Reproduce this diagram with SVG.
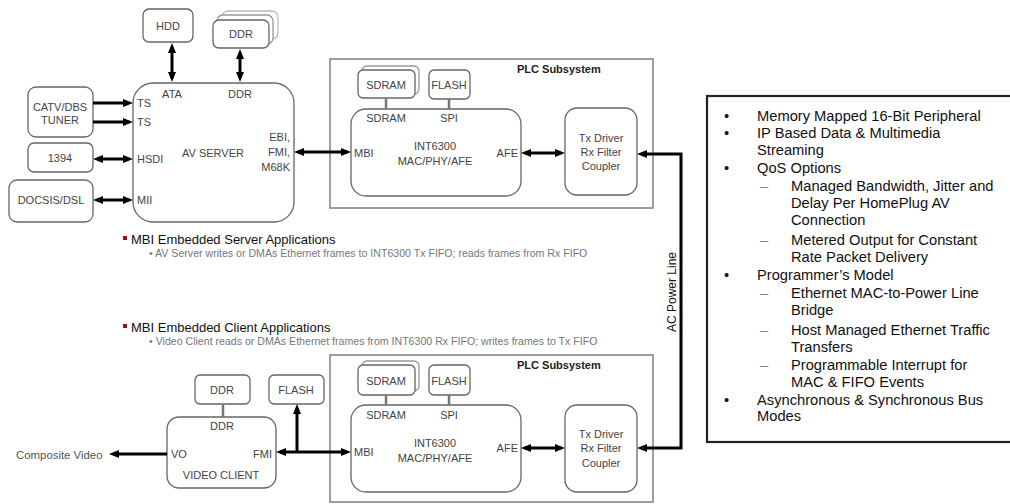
<svg xmlns="http://www.w3.org/2000/svg" width="1010" height="504" viewBox="0 0 1010 504">
<defs>
<marker id="ah" viewBox="0 0 10 8" markerWidth="10" markerHeight="8" refX="6" refY="4" markerUnits="userSpaceOnUse" orient="auto-start-reverse">
<path d="M0,0 L10,4 L0,8 z" fill="#000"/>
</marker>
<style>
.box{fill:#fff;stroke:#666;stroke-width:1.3}
.sub{fill:none;stroke:#888;stroke-width:1.6}
.lbl{font-family:"Liberation Sans",Arial,sans-serif;font-size:11px;fill:#444}
.mid{text-anchor:middle}
.end{text-anchor:end}
.arr{fill:none;stroke:#000;stroke-width:3}
.gl{fill:none;stroke:#777;stroke-width:2.5}
.bt{font-family:"Liberation Sans",Arial,sans-serif;font-size:14.7px;fill:#111}
.hd{font-family:"Liberation Sans",Arial,sans-serif;font-size:13px;fill:#111}
.sm{font-family:"Liberation Sans",Arial,sans-serif;font-size:10.6px;fill:#777}
</style>
</defs>
<rect width="1010" height="504" fill="#fff"/>

<!-- PLC subsystem frames -->
<g id="plc1">
<rect class="sub" x="330" y="59" width="323" height="149"/>
<text class="lbl" x="517" y="73" style="font-weight:bold;fill:#222">PLC Subsystem</text>
</g>
<g id="plc2">
<rect class="sub" x="330" y="355" width="323" height="147"/>
<text class="lbl" x="517" y="369" style="font-weight:bold;fill:#222">PLC Subsystem</text>
</g>

<!-- Top server side -->
<g id="hdd">
<rect class="box" x="143" y="9" width="50" height="33" rx="6"/>
<text class="lbl mid" x="168" y="30">HDD</text>
</g>
<g id="ddr1">
<rect class="box" x="222" y="11" width="56" height="28" rx="6" style="stroke:#bbb"/>
<rect class="box" x="217" y="15" width="56" height="29" rx="6" style="stroke:#999"/>
<rect class="box" x="213" y="20" width="56" height="28" rx="6"/>
<text class="lbl mid" x="241" y="38">DDR</text>
</g>
<g id="tuner">
<rect class="box" x="28" y="87" width="65" height="50" rx="8"/>
<text class="lbl mid" x="60" y="111">CATV/DBS</text>
<text class="lbl mid" x="60" y="124">TUNER</text>
</g>
<g id="n1394">
<rect class="box" x="28" y="143" width="65" height="29" rx="6"/>
<text class="lbl mid" x="60" y="162">1394</text>
</g>
<g id="docsis">
<rect class="box" x="9" y="180" width="84" height="42" rx="8"/>
<text class="lbl mid" x="51" y="204">DOCSIS/DSL</text>
</g>
<g id="avserver">
<rect class="box" x="133" y="83" width="161" height="139" rx="20"/>
<text class="lbl mid" x="172" y="98">ATA</text>
<text class="lbl mid" x="240" y="98">DDR</text>
<text class="lbl" x="137" y="107">TS</text>
<text class="lbl" x="137" y="126">TS</text>
<text class="lbl" x="137" y="163">HSDI</text>
<text class="lbl" x="137" y="204">MII</text>
<text class="lbl mid" x="213" y="157">AV SERVER</text>
<text class="lbl end" x="290" y="141">EBI,</text>
<text class="lbl end" x="290" y="156">FMI,</text>
<text class="lbl end" x="290" y="171">M68K</text>
</g>

<!-- Top PLC contents -->
<g id="sdram1">
<rect class="box" x="362" y="66" width="57" height="28" rx="5" style="stroke:#999"/>
<rect class="box" x="358" y="70" width="57" height="28" rx="5"/>
<text class="lbl mid" x="386" y="89">SDRAM</text>
</g>
<g id="flash1">
<rect class="box" x="429" y="70" width="41" height="29" rx="5"/>
<text class="lbl mid" x="449" y="89">FLASH</text>
</g>
<g id="int1">
<rect class="box" x="351" y="109" width="170" height="87" rx="15"/>
<text class="lbl mid" x="386" y="122">SDRAM</text>
<text class="lbl mid" x="449" y="122">SPI</text>
<text class="lbl" x="354" y="157">MBI</text>
<text class="lbl mid" x="435" y="150">INT6300</text>
<text class="lbl mid" x="435" y="165">MAC/PHY/AFE</text>
<text class="lbl end" x="518" y="157">AFE</text>
</g>
<g id="tx1">
<rect class="box" x="565" y="108" width="72" height="87" rx="12"/>
<text class="lbl mid" x="601" y="142">Tx Driver</text>
<text class="lbl mid" x="601" y="156">Rx Filter</text>
<text class="lbl mid" x="601" y="170">Coupler</text>
</g>

<!-- Bottom PLC contents -->
<g id="sdram2">
<rect class="box" x="362" y="361" width="57" height="30" rx="5" style="stroke:#999"/>
<rect class="box" x="358" y="365" width="57" height="30" rx="5"/>
<text class="lbl mid" x="386" y="385">SDRAM</text>
</g>
<g id="flash2">
<rect class="box" x="429" y="365" width="41" height="30" rx="5"/>
<text class="lbl mid" x="449" y="385">FLASH</text>
</g>
<g id="int2">
<rect class="box" x="351" y="405" width="170" height="87" rx="15"/>
<text class="lbl mid" x="386" y="419">SDRAM</text>
<text class="lbl mid" x="449" y="419">SPI</text>
<text class="lbl" x="354" y="456">MBI</text>
<text class="lbl mid" x="435" y="447">INT6300</text>
<text class="lbl mid" x="435" y="462">MAC/PHY/AFE</text>
<text class="lbl end" x="518" y="452">AFE</text>
</g>
<g id="tx2">
<rect class="box" x="565" y="405" width="72" height="87" rx="12"/>
<text class="lbl mid" x="601" y="438">Tx Driver</text>
<text class="lbl mid" x="601" y="452">Rx Filter</text>
<text class="lbl mid" x="601" y="467">Coupler</text>
</g>

<!-- Video client side -->
<g id="ddr2">
<rect class="box" x="195" y="375" width="55" height="29" rx="5"/>
<text class="lbl mid" x="222" y="394">DDR</text>
</g>
<g id="flash3">
<rect class="box" x="269" y="375" width="55" height="29" rx="5"/>
<text class="lbl mid" x="296" y="394">FLASH</text>
</g>
<g id="vclient">
<rect class="box" x="167" y="417" width="109" height="71" rx="12"/>
<text class="lbl mid" x="222" y="430">DDR</text>
<text class="lbl" x="171" y="458">VO</text>
<text class="lbl end" x="272" y="458">FMI</text>
<text class="lbl mid" x="221" y="479">VIDEO CLIENT</text>
</g>
<g id="composite">
<text class="lbl" x="16" y="459" style="font-size:11.4px;fill:#555">Composite Video</text>
</g>

<!-- Notes -->
<g id="notes">
<rect x="123" y="236" width="4" height="4" fill="#a01010"/>
<text class="hd" x="131" y="244">MBI Embedded Server Applications</text>
<text class="sm" x="149" y="257">•  AV Server writes or DMAs Ethernet frames to INT6300 Tx FIFO; reads frames from Rx FIFO</text>
<rect x="123" y="324" width="4" height="4" fill="#a01010"/>
<text class="hd" x="131" y="332">MBI Embedded Client Applications</text>
<text class="sm" x="149" y="345">•  Video Client reads or DMAs Ethernet frames from INT6300 Rx FIFO; writes frames to Tx FIFO</text>
</g>

<!-- Feature list -->
<g id="features">
<rect x="707" y="96" width="310" height="346" fill="#fff" stroke="#222" stroke-width="2.2"/>
<g class="bt">
<text x="724" y="121">•</text><text x="757" y="121">Memory Mapped 16-Bit Peripheral</text>
<text x="724" y="138">•</text><text x="757" y="138">IP Based Data &amp; Multimedia</text>
<text x="757" y="155">Streaming</text>
<text x="724" y="173">•</text><text x="757" y="173">QoS Options</text>
<text x="760" y="191" style="fill:#888">–</text><text x="791" y="191">Managed Bandwidth, Jitter and</text>
<text x="791" y="208">Delay Per HomePlug AV</text>
<text x="791" y="225">Connection</text>
<text x="760" y="245" style="fill:#888">–</text><text x="791" y="245">Metered Output for Constant</text>
<text x="791" y="262">Rate Packet Delivery</text>
<text x="724" y="280">•</text><text x="757" y="280">Programmer’s Model</text>
<text x="760" y="298" style="fill:#888">–</text><text x="791" y="298">Ethernet MAC-to-Power Line</text>
<text x="791" y="315">Bridge</text>
<text x="760" y="335" style="fill:#888">–</text><text x="791" y="335">Host Managed Ethernet Traffic</text>
<text x="791" y="352">Transfers</text>
<text x="760" y="370" style="fill:#888">–</text><text x="791" y="370">Programmable Interrupt for</text>
<text x="791" y="387">MAC &amp; FIFO Events</text>
<text x="724" y="405">•</text><text x="757" y="405">Asynchronous &amp; Synchronous Bus</text>
<text x="757" y="421">Modes</text>
</g>
</g>

<!-- AC power line label -->
<g id="acline">
<text x="0" y="0" transform="translate(676,292) rotate(-90)" text-anchor="middle" style="font-family:'Liberation Sans',Arial,sans-serif;font-size:12px;fill:#111">AC Power Line</text>
</g>

<!-- Connectors -->
<g id="connectors">
<path class="gl" d="M386,98 V109 M449,99 V109 M386,395 V405 M449,395 V405 M223,404 V417"/>
<path class="arr" d="M172,47 V78" marker-start="url(#ah)" marker-end="url(#ah)"/>
<path class="arr" d="M240,53 V78" marker-start="url(#ah)" marker-end="url(#ah)"/>
<path class="arr" d="M93,103 H129" marker-end="url(#ah)"/>
<path class="arr" d="M93,122 H129" marker-end="url(#ah)"/>
<path class="arr" d="M97,159 H129" marker-start="url(#ah)" marker-end="url(#ah)"/>
<path class="arr" d="M97,200 H129" marker-start="url(#ah)" marker-end="url(#ah)"/>
<path class="arr" d="M298,152 H347" marker-start="url(#ah)" marker-end="url(#ah)"/>
<path class="arr" d="M525,153 H561" marker-start="url(#ah)" marker-end="url(#ah)"/>
<path class="arr" d="M641,154 H681 V448 H641" marker-start="url(#ah)" marker-end="url(#ah)"/>
<path class="arr" d="M525,448 H561" marker-start="url(#ah)" marker-end="url(#ah)"/>
<path class="arr" d="M280,452 H347" marker-start="url(#ah)" marker-end="url(#ah)"/>
<path class="arr" d="M297,452 V408" marker-end="url(#ah)"/>
<path class="arr" d="M167,454 H113" marker-end="url(#ah)"/>
</g>
</svg>
